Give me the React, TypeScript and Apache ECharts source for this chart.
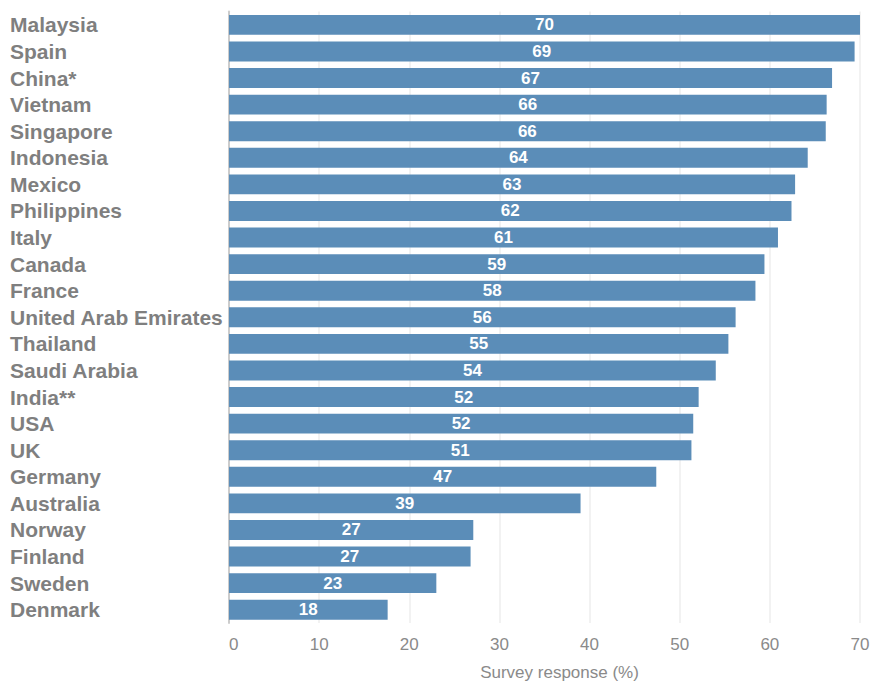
import React, { useEffect, useRef } from "react";
import * as echarts from "echarts";

const countries = [
  "Malaysia", "Spain", "China*", "Vietnam", "Singapore", "Indonesia", "Mexico",
  "Philippines", "Italy", "Canada", "France", "United Arab Emirates", "Thailand",
  "Saudi Arabia", "India**", "USA", "UK", "Germany", "Australia", "Norway",
  "Finland", "Sweden", "Denmark",
];
const responses = [
  70.0, 69.4, 66.9, 66.3, 66.2, 64.2, 62.8, 62.4, 60.9, 59.4, 58.4, 56.2, 55.4,
  54.0, 52.1, 51.5, 51.3, 47.4, 39.0, 27.1, 26.8, 23.0, 17.6,
];
const xTicks = [0, 10, 20, 30, 40, 50, 60, 70];
const axisTitle = "Survey response (%)";

const FONT = "Liberation Sans, Arial, sans-serif";

export default function App() {
  const ref = useRef<HTMLDivElement>(null);
  useEffect(() => {
    if (!ref.current) return;
    const chart = echarts.init(ref.current, null, { renderer: "svg" });
    chart.setOption({
      animation: false,
      grid: { left: 229, right: 20, top: 11.6, bottom: 58.6, containLabel: false },
      xAxis: {
        type: "value",
        min: xTicks[0],
        max: xTicks[xTicks.length - 1],
        interval: 10,
        name: axisTitle,
        nameLocation: "middle",
        nameGap: 41,
        nameTextStyle: {
          color: "#8a8a8a",
          fontSize: 17,
          fontFamily: FONT,
          padding: [0, 0, 0, 30],
        },
        axisLine: { show: false },
        axisTick: { show: false },
        axisLabel: {
          color: "#8a8a8a",
          fontSize: 17,
          margin: 13,
          alignMinLabel: "left",
          fontFamily: FONT,
        },
        splitLine: { show: true, lineStyle: { color: "#eeeeee", width: 1.5 } },
      },
      yAxis: {
        type: "category",
        data: countries,
        inverse: true,
        axisLine: { show: true, lineStyle: { color: "#cccccc", width: 2 } },
        axisTick: { show: false },
        axisLabel: {
          interval: 0,
          color: "#7f7f7f",
          fontSize: 21,
          fontWeight: "bold",
          align: "left",
          margin: 219,
          fontFamily: FONT,
        },
      },
      series: [
        {
          type: "bar",
          data: responses,
          barCategoryGap: "25%",
          itemStyle: { color: "#5b8db8" },
          label: {
            show: true,
            position: "inside",
            color: "#ffffff",
            fontWeight: "bold",
            fontSize: 17,
            fontFamily: FONT,
            formatter: (p: any) => Math.round(p.value).toString(),
          },
        },
      ],
    });
    return () => chart.dispose();
  }, []);
  return <div ref={ref} style={{ width: 880, height: 686, position: "absolute", left: 0, top: 0 }} />;
}
